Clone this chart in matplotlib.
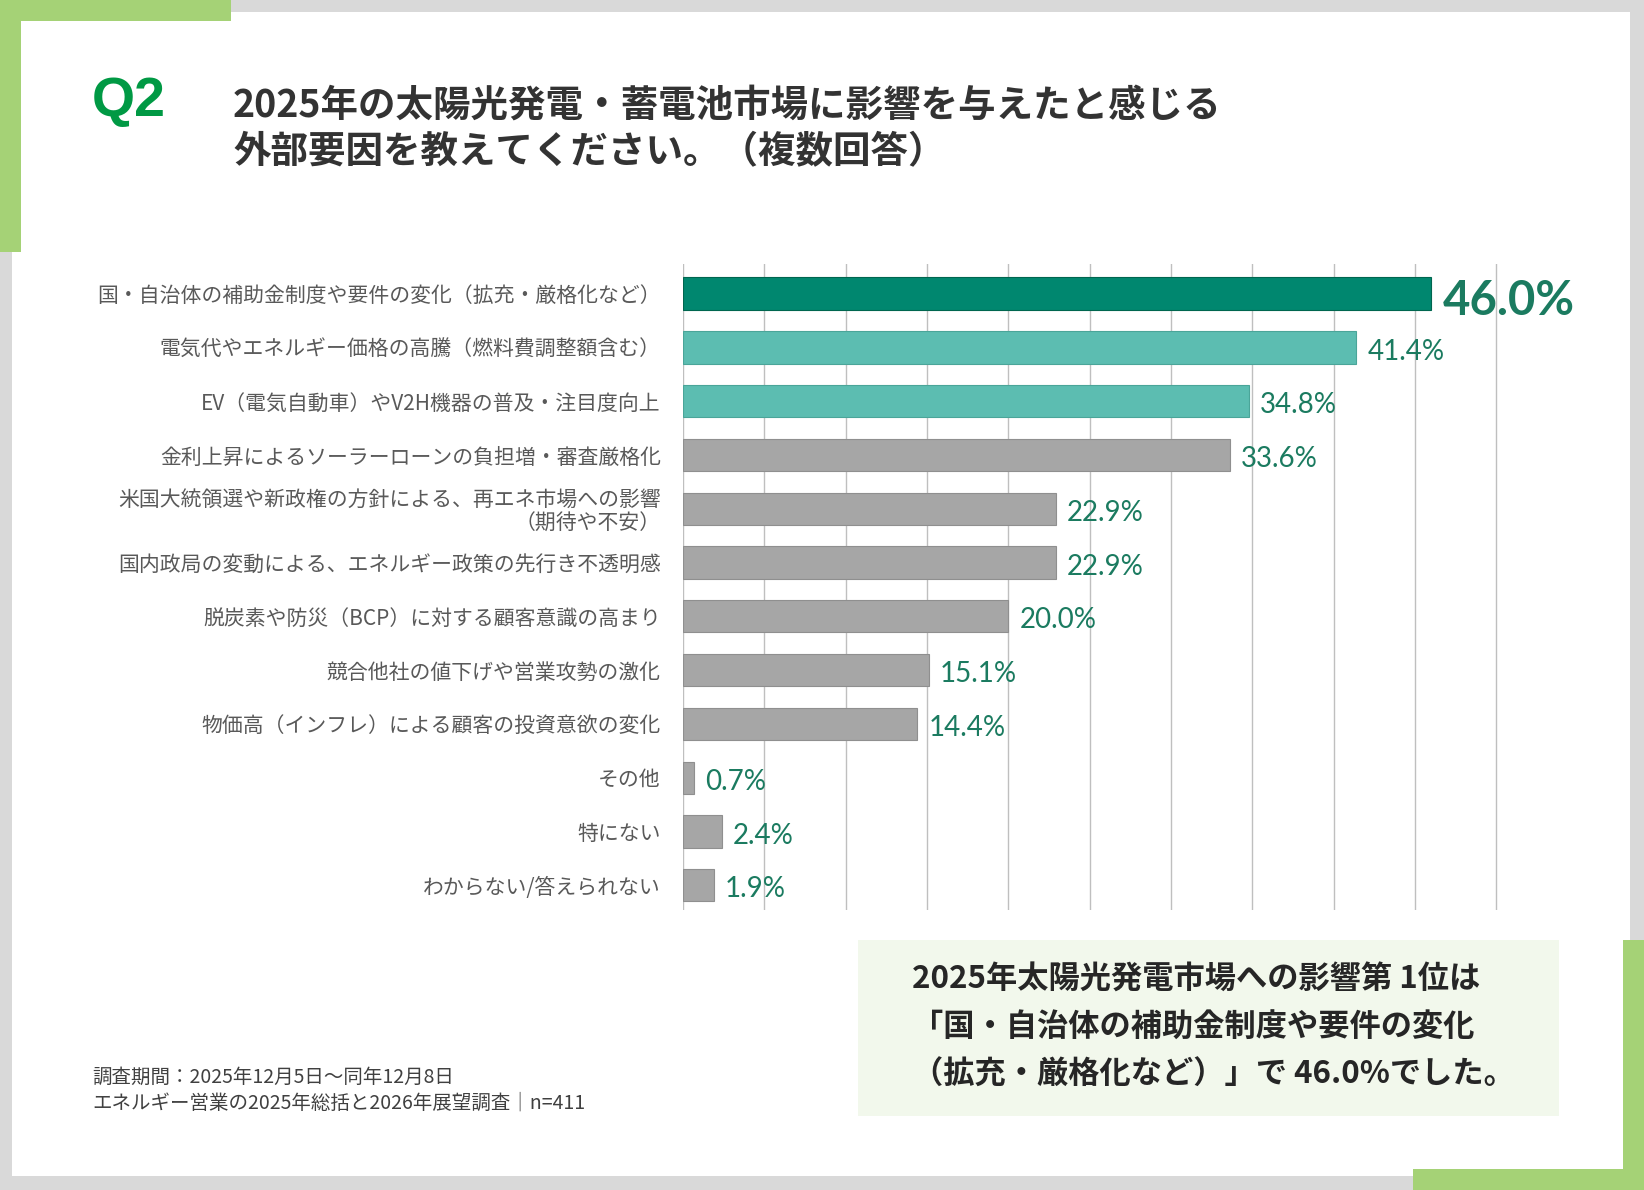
import matplotlib
matplotlib.use("Agg")
import matplotlib.pyplot as plt
from matplotlib.patches import Rectangle

plt.rcParams['font.family'] = ['Noto Sans CJK JP', 'DejaVu Sans']

# data
categories = [
    '国・自治体の補助金制度や要件の変化（拡充・厳格化など）',
    '電気代やエネルギー価格の高騰（燃料費調整額含む）',
    'EV（電気自動車）やV2H機器の普及・注目度向上',
    '金利上昇によるソーラーローンの負担増・審査厳格化',
    '米国大統領選や新政権の方針による、再エネ市場への影響\n（期待や不安）',
    '国内政局の変動による、エネルギー政策の先行き不透明感',
    '脱炭素や防災（BCP）に対する顧客意識の高まり',
    '競合他社の値下げや営業攻勢の激化',
    '物価高（インフレ）による顧客の投資意欲の変化',
    'その他',
    '特にない',
    'わからない/答えられない',
]
values = [46.0, 41.4, 34.8, 33.6, 22.9, 22.9, 20.0, 15.1, 14.4, 0.7, 2.4, 1.9]
bar_colors = ['#00876f', '#5cbdb1', '#5cbdb1'] + ['#a6a6a6'] * 9
edge_colors = ['#00664f', '#4aa599', '#4aa599'] + ['#8f8f8f'] * 9
xticks = list(range(0, 55, 5))

title_lines = ['2025年の太陽光発電・蓄電池市場に影響を与えたと感じる',
               '外部要因を教えてください。（複数回答）']
callout_lines = ['2025年太陽光発電市場への影響第 1位は',
                 '「国・自治体の補助金制度や要件の変化',
                 '（拡充・厳格化など）」で 46.0%でした。']
footer_lines = ['調査期間：2025年12月5日～同年12月8日',
                'エネルギー営業の2025年総括と2026年展望調査│n=411']

W, H = 1644, 1190
fig = plt.figure(figsize=(W / 100, H / 100), dpi=100)
fig.patch.set_facecolor('#d9d9d9')


def px_rect(x0, y0, x1, y1, color, z=-1):
    # rectangle given in pixel coords (top-left origin)
    fig.patches.append(Rectangle((x0 / W, 1 - y1 / H), (x1 - x0) / W, (y1 - y0) / H,
                                 transform=fig.transFigure, facecolor=color,
                                 edgecolor='none', zorder=z))


# frame
px_rect(12, 12, 1630, 1176, 'white', -2)
green = '#a5d276'
px_rect(0, 0, 231, 21, green)
px_rect(0, 0, 21, 252, green)
px_rect(1623, 940, 1644, 1190, green)
px_rect(1413, 1169, 1644, 1190, green)
px_rect(858, 940, 1559, 1116, '#f2f8ec')

# header
fig.text(92 / W, 1 - 102 / H, 'Q2', color='#009944', fontsize=40, fontweight='bold',
         family=['Liberation Sans Narrow', 'Liberation Sans', 'DejaVu Sans'], va='center')
for i, line in enumerate(title_lines):
    fig.text(233 / W, 1 - (105 + 47 * i) / H, line, color='#333333', fontsize=27,
             fontweight='bold', va='center')

# chart
ax = fig.add_axes([683 / W, 1 - 910 / H, (1498 - 683) / W, (910 - 264) / H])
ax.set_zorder(2)
ax.set_facecolor('none')
ypos = list(range(len(categories)))
ax.barh(ypos, values, height=0.6, color=bar_colors, edgecolor=edge_colors,
        linewidth=0.8, zorder=3)
for x in xticks:
    ax.axvline(x, color='#bfbfbf', lw=1.0, zorder=1)
ax.set_xlim(0, 50.1)
ax.set_ylim(11.46, -0.55)
ax.set_xticks([])
ax.set_yticks(ypos)
ax.set_yticklabels(categories, fontsize=15, color='#595959', linespacing=1.1)
for t in ax.get_yticklabels():
    t.set_multialignment('right')
ax.tick_params(axis='y', length=0, pad=16)
for s in ax.spines.values():
    s.set_visible(False)

for i, v in enumerate(values):
    if i == 0:
        ax.annotate(f'{v:.1f}%', (v, i), xytext=(8, -5), textcoords='offset points',
                    va='center', ha='left', fontsize=34, fontweight='bold',
                    color='#1b7b60', family=['Lato', 'DejaVu Sans'])
    else:
        ax.annotate(f'{v:.1f}%', (v, i), xytext=(8, -3), textcoords='offset points',
                    va='center', ha='left', fontsize=20,
                    color='#1b7b60', family=['Lato', 'DejaVu Sans'])

# callout
for i, line in enumerate(callout_lines):
    fig.text(912 / W, 1 - (980 + 47.5 * i) / H, line, color='#262626', fontsize=22.5,
             fontweight='bold', va='center')

# footer
for i, line in enumerate(footer_lines):
    fig.text(92 / W, 1 - (1077 + 26 * i) / H, line, color='#404040', fontsize=14,
             va='center')

fig.savefig('out.png', dpi=100, facecolor=fig.get_facecolor())
